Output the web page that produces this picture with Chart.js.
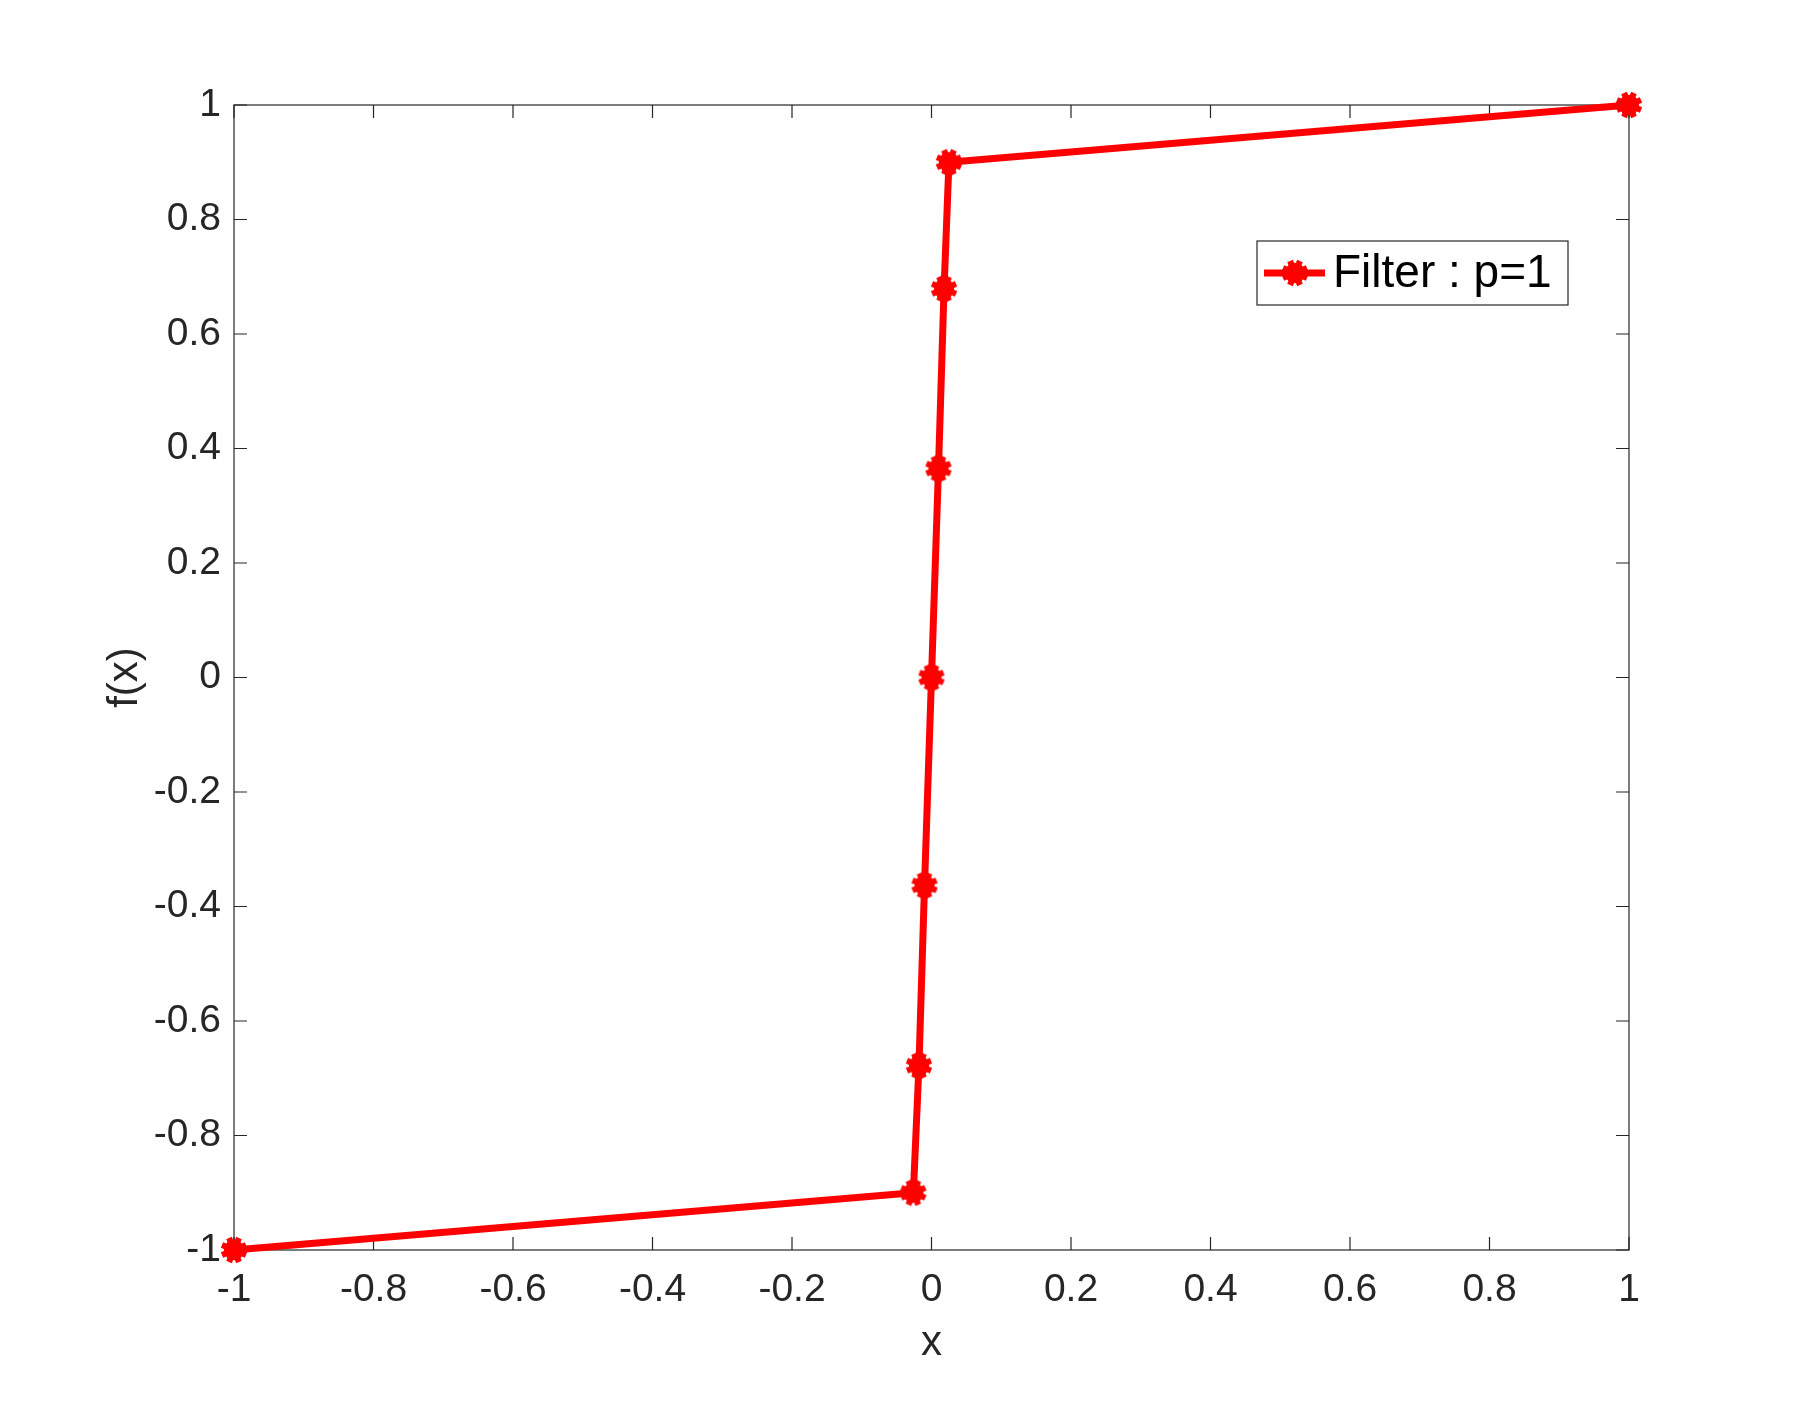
<!DOCTYPE html>
<html><head><meta charset="utf-8">
<script src="https://cdn.jsdelivr.net/npm/chart.js@4/dist/chart.umd.min.js"></script>
<style>html,body{margin:0;padding:0;background:#fff}#wrap{width:1800px;height:1404px}</style>
</head><body><div id="wrap"><canvas id="c" width="1800" height="1404"></canvas></div>
<script>
// ---- data ----
const xValues = [-1, -0.026, -0.018, -0.01, 0, 0.01, 0.018, 0.025, 1];
const yValues = [-1, -0.9, -0.678, -0.363, 0, 0.365, 0.679, 0.9, 1];
const xTicks = [-1, -0.8, -0.6, -0.4, -0.2, 0, 0.2, 0.4, 0.6, 0.8, 1];
const yTicks = [-1, -0.8, -0.6, -0.4, -0.2, 0, 0.2, 0.4, 0.6, 0.8, 1];
const seriesLabel = 'Filter : p=1';
const xTitle = 'x';
const yTitle = 'f(x)';

const RED = '#ff0000';
const AX = '#262626';
const FONT = "'Liberation Sans', Arial, Helvetica, sans-serif";

// marker image (MATLAB-like thick asterisk)
function makeMarker(r) {
  const s = Math.ceil(r * 2 + 4);
  const cv = document.createElement('canvas');
  cv.width = s; cv.height = s;
  const g = cv.getContext('2d');
  const c = s / 2;
  g.strokeStyle = RED; g.fillStyle = RED; g.lineWidth = 6; g.lineCap = 'butt';
  for (let k = 0; k < 4; k++) {
    const a = k * Math.PI / 4 + Math.PI / 8;
    g.beginPath();
    g.moveTo(c - Math.cos(a) * r, c - Math.sin(a) * r);
    g.lineTo(c + Math.cos(a) * r, c + Math.sin(a) * r);
    g.stroke();
  }
  g.beginPath(); g.arc(c, c, r * 0.78, 0, Math.PI * 2); g.fill();
  return cv;
}
const marker = makeMarker(13);

const points = xValues.map((x, i) => ({ x, y: yValues[i] }));

const frame = {
  id: 'frame',
  beforeDatasetsDraw(chart) {
    const { ctx, chartArea: a, scales } = chart;
    ctx.save();
    ctx.strokeStyle = AX; ctx.lineWidth = 1.2;
    ctx.strokeRect(a.left, a.top, a.right - a.left, a.bottom - a.top);
    const L = 13;
    ctx.beginPath();
    scales.x.ticks.forEach(t => {
      const px = scales.x.getPixelForValue(t.value);
      ctx.moveTo(px, a.bottom); ctx.lineTo(px, a.bottom - L);
      ctx.moveTo(px, a.top); ctx.lineTo(px, a.top + L);
    });
    scales.y.ticks.forEach(t => {
      const py = scales.y.getPixelForValue(t.value);
      ctx.moveTo(a.left, py); ctx.lineTo(a.left + L, py);
      ctx.moveTo(a.right, py); ctx.lineTo(a.right - L, py);
    });
    ctx.stroke();
    ctx.restore();
  },
  afterDraw(chart) {
    const { ctx, chartArea: a } = chart;
    const ds = chart.data.datasets[0];
    ctx.save();
    const bx = a.right - 372, by = a.top + 136, bw = 311, bh = 64;
    ctx.fillStyle = '#fff';
    ctx.fillRect(bx, by, bw, bh);
    ctx.strokeStyle = '#262626'; ctx.lineWidth = 1.2;
    ctx.strokeRect(bx, by, bw, bh);
    const cy = by + bh / 2;
    ctx.strokeStyle = ds.borderColor; ctx.lineWidth = ds.borderWidth;
    ctx.beginPath(); ctx.moveTo(bx + 7, cy); ctx.lineTo(bx + 68, cy); ctx.stroke();
    ctx.drawImage(marker, bx + 38 - marker.width / 2, cy - marker.height / 2);
    ctx.fillStyle = '#000';
    ctx.font = "46px " + FONT;
    ctx.textBaseline = 'middle'; ctx.textAlign = 'left';
    ctx.fillText(ds.label, bx + 76, cy + 1);
    ctx.restore();
  }
};

new Chart(document.getElementById('c'), {
  type: 'scatter',
  data: {
    datasets: [{
      label: seriesLabel,
      data: points,
      showLine: true,
      borderColor: RED,
      backgroundColor: RED,
      borderWidth: 7,
      pointStyle: marker,
      pointRadius: 13,
      clip: false,
      tension: 0
    }]
  },
  options: {
    responsive: false,
    animation: false,
    devicePixelRatio: 1,
    layout: { padding: { top: 105, right: 171, left: 0, bottom: 0 } },
    plugins: { legend: { display: false }, tooltip: { enabled: false } },
    scales: {
      x: {
        type: 'linear', min: -1, max: 1,
        afterBuildTicks: s => { s.ticks = xTicks.map(v => ({ value: v })); },
        afterFit: s => { s.height = 154; },
        grid: { display: false, drawTicks: false },
        border: { display: false },
        ticks: { color: AX, font: { family: FONT, size: 39 }, padding: 17, maxRotation: 0, autoSkip: false,
                 callback: v => String(v) },
        title: { display: true, text: xTitle, color: AX, font: { family: FONT, size: 42 }, padding: { top: 0, bottom: 35 } }
      },
      y: {
        type: 'linear', min: -1, max: 1,
        afterBuildTicks: s => { s.ticks = yTicks.map(v => ({ value: v })); },
        afterFit: s => { s.width = 234; },
        grid: { display: false, drawTicks: false },
        border: { display: false },
        ticks: { color: AX, font: { family: FONT, size: 39 }, padding: 13, autoSkip: false,
                 callback: v => String(v) },
        title: { display: true, text: yTitle, color: AX, font: { family: FONT, size: 42 }, padding: { top: 100, bottom: 0 } }
      }
    }
  },
  plugins: [frame]
});
</script></body></html>
